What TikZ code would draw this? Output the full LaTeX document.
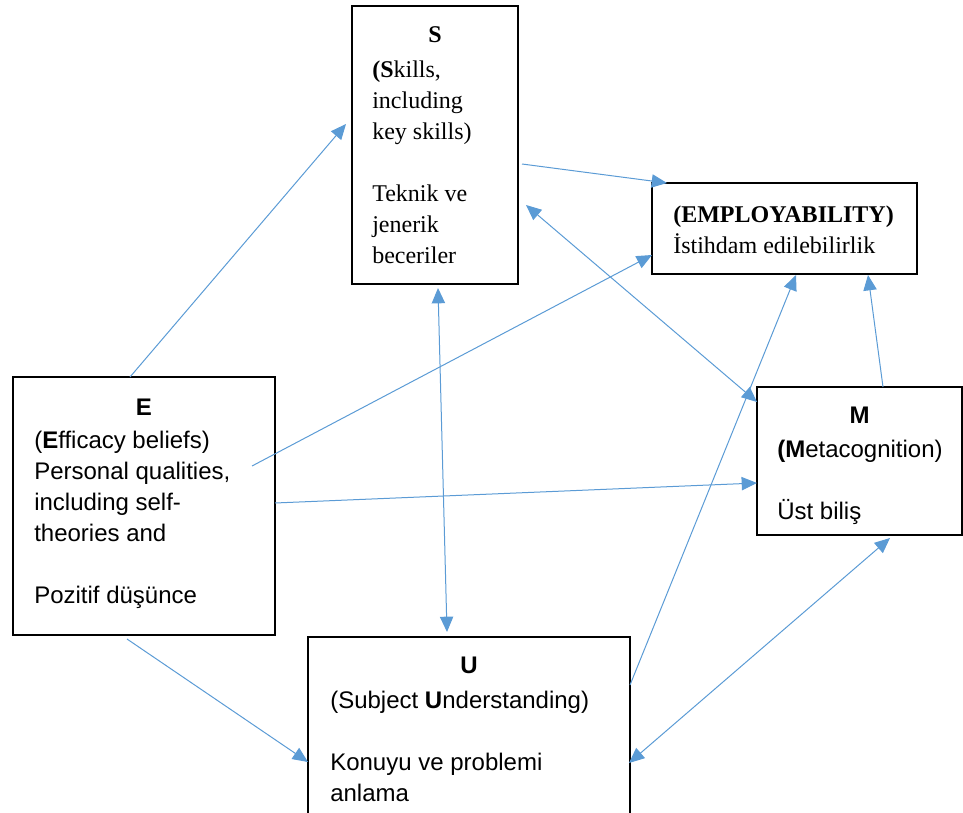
\documentclass[tikz,border=0pt]{standalone}
\usepackage{fontspec}
\setmainfont{Liberation Serif}
\newfontfamily\arialfont{Liberation Sans}
\usepackage{tikz}
\usetikzlibrary{arrows.meta, calc}
\definecolor{linkblue}{RGB}{91,155,213}
\newcommand{\bigtxt}{\fontsize{18}{23.25}\selectfont}

\begin{document}
\begin{tikzpicture}[
      x=0.75pt, y=-0.75pt,
      box/.style={draw, line width=1.4pt, inner sep=0pt, outer sep=0pt},
      serifttl/.style={anchor=base, inner sep=0pt, font=\bigtxt\bfseries},
      sansttl/.style={anchor=base, inner sep=0pt, font=\arialfont\bigtxt\bfseries},
      serifbody/.style={anchor=north west, align=left, inner sep=0pt, font=\bigtxt},
      sansbody/.style={anchor=north west, align=left, inner sep=0pt, font=\arialfont\bigtxt},
      arr/.style={-{Triangle[length=11.5pt, width=10pt]}, color=linkblue, line width=0.75pt},
      twoway/.style={arr, {Triangle[length=11.5pt, width=10pt]}-{Triangle[length=11.5pt, width=10pt]}}
  ]
  \useasboundingbox (0,0) rectangle (963,813);
  \clip (0,0) rectangle (963,813);

  \node[box, minimum width=124.5pt, minimum height=208.5pt] (skills) at (435,145) {};
  \node[box, minimum width=198.75pt, minimum height=68.25pt] (employ) at (784.5,228.5) {};
  \node[box, minimum width=196.5pt, minimum height=193.5pt] (efficacy) at (144,506) {};
  \node[box, minimum width=241.5pt, minimum height=152.25pt] (underst) at (469,738.5) {};
  \node[box, minimum width=153.75pt, minimum height=111pt] (metacog) at (859.5,461) {};

  \node[serifttl] (skillsT) at ($(skills.north)+(0,37)$) {S};
  \node[serifbody] (skillsB) at ($(skills.north west)+(20,49.3)$)
       {\strut\textbf{(S}kills,\\including\\key skills)\\[\baselineskip]Teknik ve\\jenerik\\beceriler};
  \node[serifbody] (employB) at ($(employ.north west)+(21,17.3)$)
       {\strut\textbf{(EMPLOYABILITY)}\\İstihdam edilebilirlik};
  \node[sansttl] (efficacyT) at ($(efficacy.north)+(0,38)$) {E};
  \node[sansbody] (efficacyB) at ($(efficacy.north west)+(21,49.3)$)
       {\strut(\textbf{E}fficacy beliefs)\\Personal qualities,\\including self-\\theories and\\[\baselineskip]Pozitif düşünce};
  \node[sansttl] (understT) at ($(underst.north)+(0,36)$) {U};
  \node[sansbody] (understB) at ($(underst.north west)+(22,49.3)$)
       {\strut(Subject \textbf{U}nderstanding)\\[\baselineskip]Konuyu ve problemi\\anlama};
  \node[sansttl] (metacogT) at ($(metacog.north)+(0,36)$) {M};
  \node[sansbody] (metacogB) at ($(metacog.north west)+(20,48.3)$)
       {\strut\textbf{(M}etacognition)\\[\baselineskip]Üst biliş};

  \draw[arr] ($(efficacy.north west)+(117,0)$) -- ($(skills.north west)+(-6,118)$);
  \draw[arr] ($(skills.north east)+(4,158)$) -- ($(employ.north west)+(15,0)$);
  \draw[arr] ($(efficacy.center)+(108,-40)$) -- ($(employ.north west)+(0,72)$);
  \draw[arr] ($(efficacy.north east)+(0,126)$) -- ($(metacog.north west)+(0,96)$);
  \draw[twoway] ($(skills.south west)+(86,4)$) -- ($(underst.north west)+(139,-5)$);
  \draw[twoway] ($(skills.south east)+(8,-79)$) -- ($(metacog.north west)+(0,15)$);
  \draw[arr] ($(underst.north east)+(0,48)$) -- ($(employ.south west)+(144,1)$);
  \draw[arr] ($(metacog.north west)+(126,0)$) -- ($(employ.south west)+(216,1)$);
  \draw[twoway] ($(underst.north east)+(-1,126)$) -- ($(metacog.south west)+(133,3)$);
  \draw[arr] ($(efficacy.south west)+(114,4)$) -- ($(underst.north west)+(0,125)$);
\end{tikzpicture}
\end{document}
